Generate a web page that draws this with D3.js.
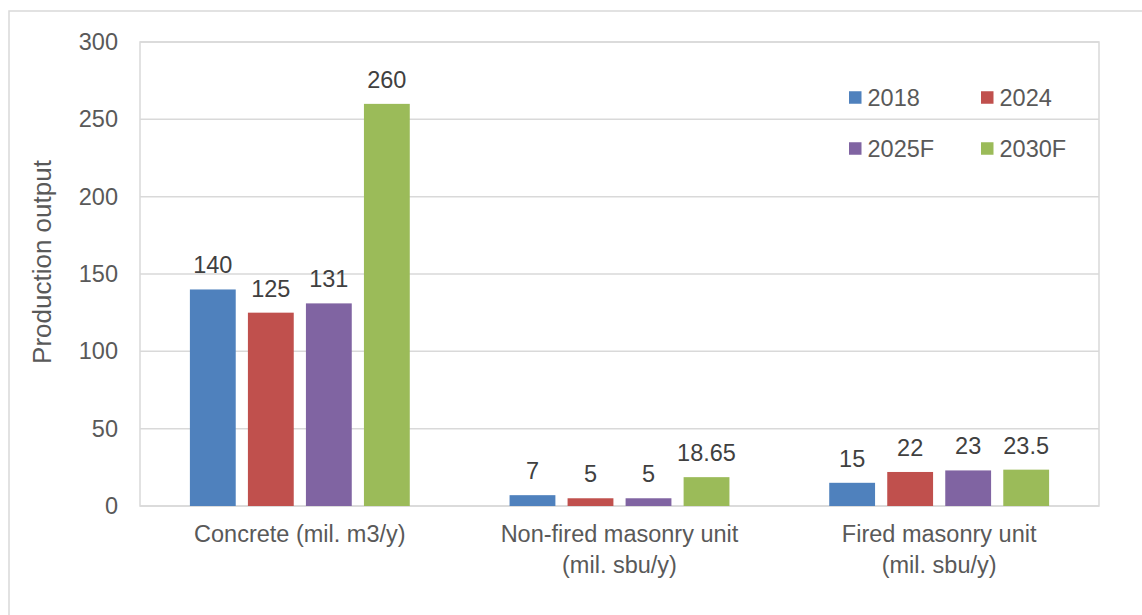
<!DOCTYPE html>
<html>
<head>
<meta charset="utf-8">
<script src="https://cdn.jsdelivr.net/npm/d3@7/dist/d3.min.js"></script>
<style>
  html, body { margin: 0; padding: 0; background: #fff; }
  svg { display: block; font-family: "Liberation Sans", Arial, sans-serif; }
</style>
</head>
<body>
<svg id="chart" width="1142" height="615"></svg>
<script>
// Production output by product group and year
const categories = [
  ["Concrete (mil. m3/y)"],
  ["Non-fired masonry unit", "(mil. sbu/y)"],
  ["Fired masonry unit", "(mil. sbu/y)"]
];
const seriesNames = ["2018", "2024", "2025F", "2030F"];
const values2018  = [140, 7, 15];
const values2024  = [125, 5, 22];
const values2025F = [131, 5, 23];
const values2030F = [260, 18.65, 23.5];
const yTicks = [0, 50, 100, 150, 200, 250, 300];
const colors = ["#4F81BD", "#C0504D", "#8064A2", "#9BBB59"];

const seriesValues = [values2018, values2024, values2025F, values2030F];

const svg = d3.select("#chart");
const W = 1142, H = 615;
const plot = { left: 140, top: 42, right: 1099, bottom: 506 };
const gridColor = "#d9d9d9";

// Outer chart frame
svg.append("rect")
  .attr("x", 9).attr("y", 11)
  .attr("width", W + 20).attr("height", H + 20)
  .attr("fill", "#fff")
  .attr("stroke", gridColor).attr("stroke-width", 1.5);

const catIdx = categories.map((d, i) => i);
const x0 = d3.scaleBand().domain(catIdx).range([plot.left, plot.right]).padding(0);
const x1 = d3.scaleBand().domain(seriesNames)
  .range([0, x0.bandwidth()])
  .paddingInner(0.21).paddingOuter(0.86);
const y = d3.scaleLinear().domain([0, 300]).range([plot.bottom, plot.top]);

// Horizontal gridlines
svg.append("g")
  .selectAll("line")
  .data(yTicks)
  .join("line")
  .attr("x1", plot.left).attr("x2", plot.right)
  .attr("y1", d => y(d)).attr("y2", d => y(d))
  .attr("stroke", gridColor).attr("stroke-width", 1.5);

// Plot area border
svg.append("rect")
  .attr("x", plot.left).attr("y", plot.top)
  .attr("width", plot.right - plot.left).attr("height", plot.bottom - plot.top)
  .attr("fill", "none").attr("stroke", gridColor).attr("stroke-width", 1.5);

// Y axis tick labels
const yAxis = d3.axisLeft(y).tickValues(yTicks).tickSize(0).tickPadding(0);
const yG = svg.append("g").attr("transform", `translate(118,0)`).call(yAxis);
yG.select(".domain").remove();
yG.selectAll("text")
  .attr("font-size", 23.5)
  .attr("font-family", "Liberation Sans, Arial, sans-serif")
  .attr("fill", "#595959");

// Y axis title
svg.append("text")
  .attr("transform", "translate(51,262) rotate(-90)")
  .attr("text-anchor", "middle")
  .attr("font-size", 26)
  .attr("fill", "#595959")
  .text("Production output");

// Bars
const groups = svg.append("g")
  .selectAll("g")
  .data(catIdx)
  .join("g")
  .attr("transform", i => `translate(${x0(i)},0)`);

groups.selectAll("rect")
  .data(i => seriesNames.map((s, k) => ({ s, k, v: seriesValues[k][i] })))
  .join("rect")
  .attr("x", d => x1(d.s))
  .attr("y", d => y(d.v))
  .attr("width", x1.bandwidth())
  .attr("height", d => y(0) - y(d.v))
  .attr("fill", d => colors[d.k]);

// Value labels
groups.selectAll("text.val")
  .data(i => seriesNames.map((s, k) => ({ s, k, v: seriesValues[k][i] })))
  .join("text")
  .attr("class", "val")
  .attr("x", d => x1(d.s) + x1.bandwidth() / 2)
  .attr("y", d => y(d.v) - 16)
  .attr("text-anchor", "middle")
  .attr("font-size", 23.5)
  .attr("fill", "#404040")
  .text(d => String(d.v));

// Category labels
const catG = svg.append("g")
  .selectAll("text")
  .data(catIdx)
  .join("text")
  .attr("x", i => x0(i) + x0.bandwidth() / 2)
  .attr("y", 542)
  .attr("text-anchor", "middle")
  .attr("font-size", 23.5)
  .attr("fill", "#595959");
catG.selectAll("tspan")
  .data(i => categories[i])
  .join("tspan")
  .attr("x", function () { return d3.select(this.parentNode).attr("x"); })
  .attr("dy", (d, j) => j === 0 ? 0 : 31)
  .text(d => d);

// Legend
const legendPos = [[849, 97.5], [981, 97.5], [849, 148.5], [981, 148.5]];
const leg = svg.append("g")
  .selectAll("g")
  .data(seriesNames)
  .join("g")
  .attr("transform", (d, i) => `translate(${legendPos[i][0]},${legendPos[i][1]})`);
leg.append("rect")
  .attr("x", 0).attr("y", -6.25)
  .attr("width", 12.5).attr("height", 12.5)
  .attr("fill", (d, i) => colors[i]);
leg.append("text")
  .attr("x", 18.5).attr("y", 0)
  .attr("dy", "0.35em")
  .attr("font-size", 23.5)
  .attr("fill", "#595959")
  .text(d => d);
</script>
</body>
</html>
